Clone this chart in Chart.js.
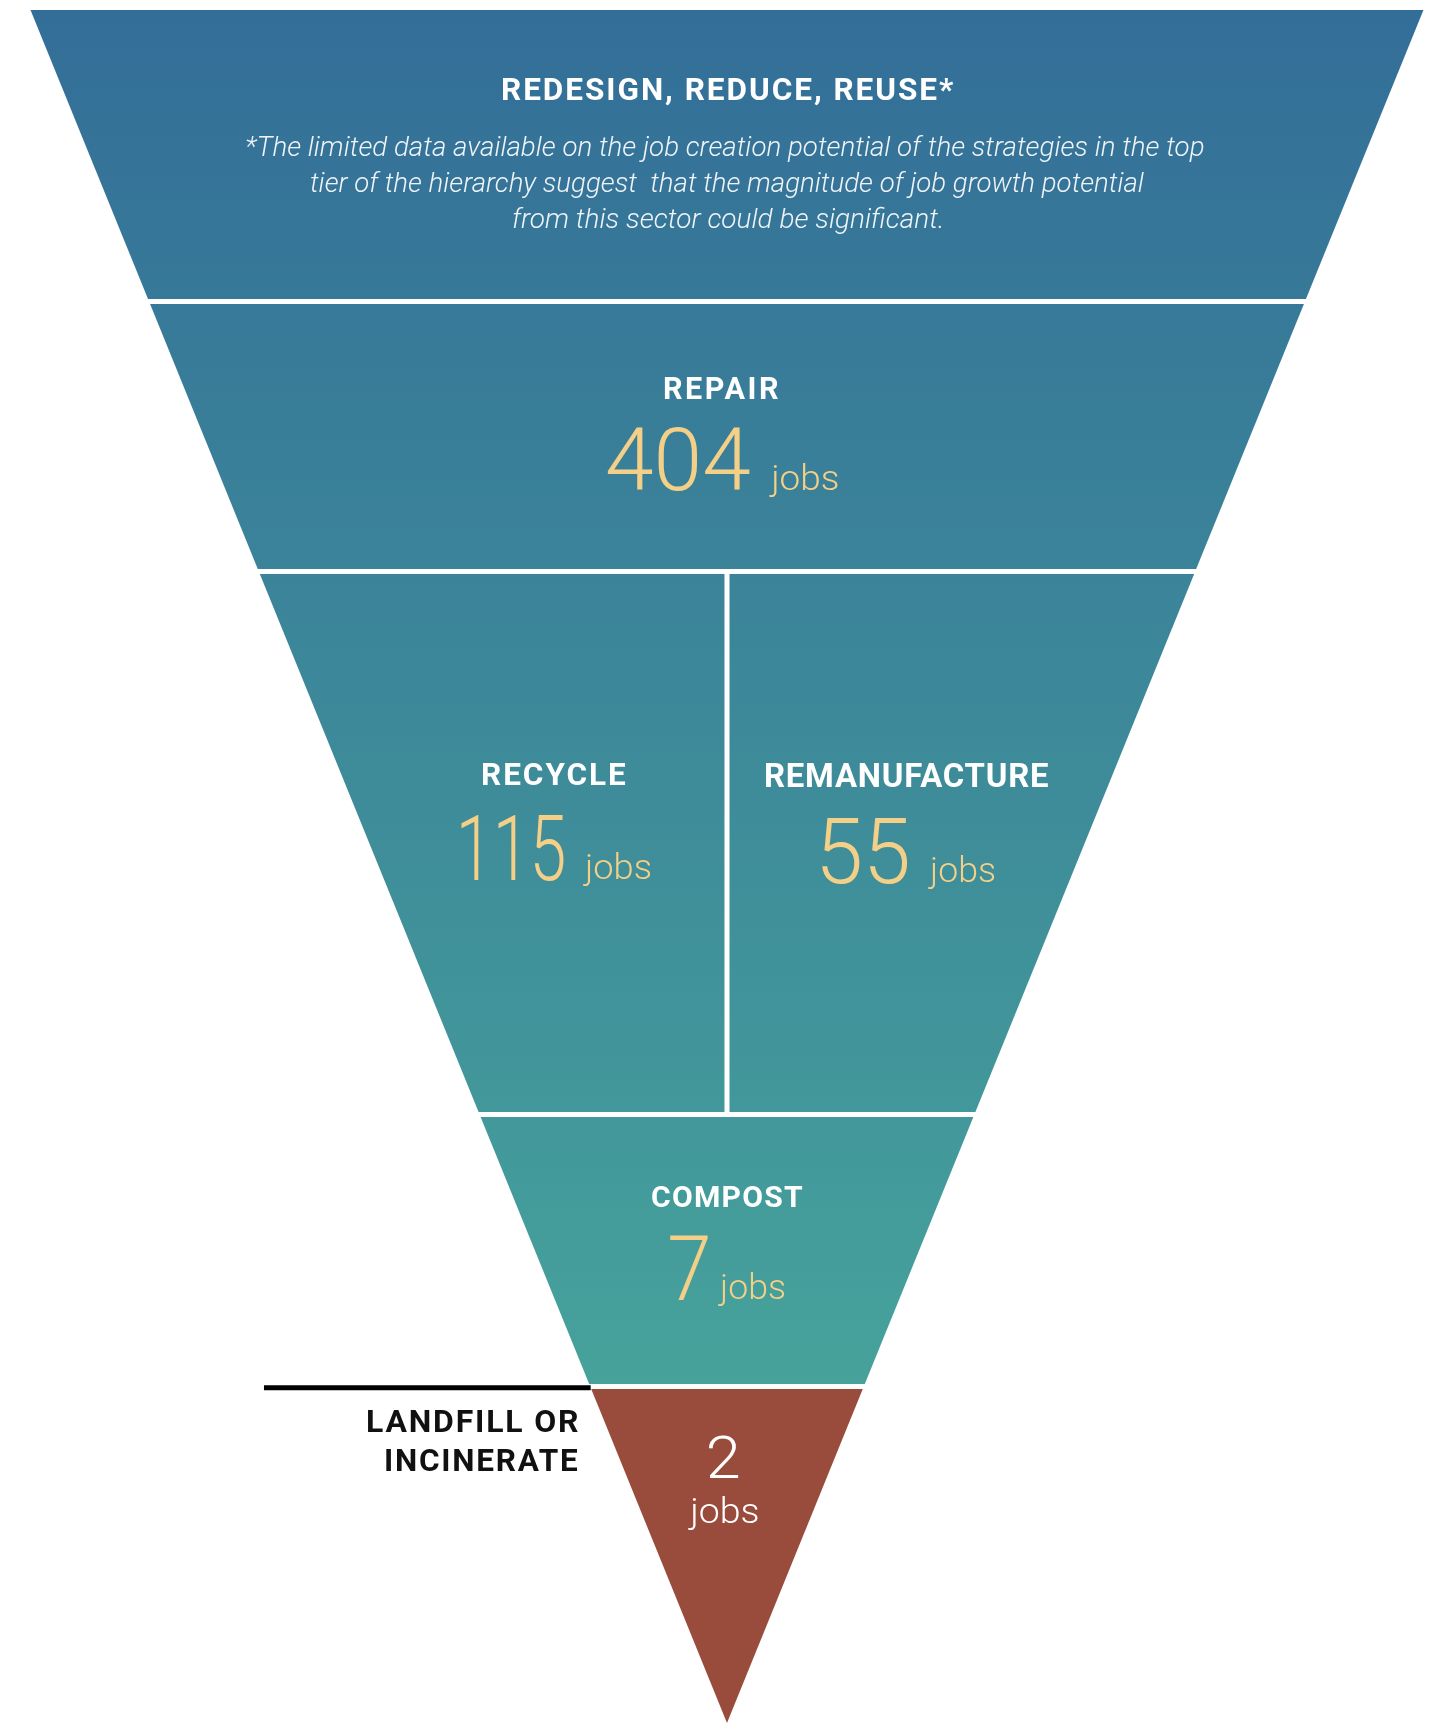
<!DOCTYPE html>
<html>
<head>
<meta charset="utf-8">
<script src="https://cdn.jsdelivr.net/npm/chart.js@4/dist/chart.umd.min.js"></script>
<style>
  html, body { margin: 0; padding: 0; background: #fff; }
  canvas { display: block; }
</style>
</head>
<body>
<canvas id="funnel" width="1439" height="1724"></canvas>
<script>
// data
const tierLabels = [
  ['REDESIGN, REDUCE, REUSE*'],
  ['REPAIR'],
  ['RECYCLE'],
  ['REMANUFACTURE'],
  ['COMPOST'],
  ['LANDFILL OR', 'INCINERATE'],
];
const tierJobs = [null, 404, 115, 55, 7, 2];
const jobsUnit = 'jobs';
const noteLines = [
  '*The limited data available on the job creation potential of the strategies in the top',
  'tier of the hierarchy suggest  that the magnitude of job growth potential',
  'from this sector could be significant.',
];

// layout: depth of the band edges (0 = top edge, 1 = apex), band of each tier
const bandEdges = [0, 0.1702, 0.3278, 0.6448, 0.8036, 1];
const tierBand = [0, 1, 2, 2, 3, 4];
const tierSide = [0, 0, -1, 1, 0, 0];
const gapY = 0.00146;
const gapX = 0.0036;

const halfWidth = d => 1 - d;

function tierShape(i) {
  const b = tierBand[i];
  const top = b === 0 ? bandEdges[b] : bandEdges[b] + gapY;
  const bot = b === bandEdges.length - 2 ? bandEdges[b + 1] : bandEdges[b + 1] - gapY;
  const side = tierSide[i];
  if (side < 0) {
    return [{x: -halfWidth(top), y: top}, {x: -gapX, y: top}, {x: -gapX, y: bot}, {x: -halfWidth(bot), y: bot}];
  }
  if (side > 0) {
    return [{x: gapX, y: top}, {x: halfWidth(top), y: top}, {x: halfWidth(bot), y: bot}, {x: gapX, y: bot}];
  }
  if (halfWidth(bot) === 0) {
    return [{x: -halfWidth(top), y: top}, {x: halfWidth(top), y: top}, {x: 0, y: bot}];
  }
  return [{x: -halfWidth(top), y: top}, {x: halfWidth(top), y: top}, {x: halfWidth(bot), y: bot}, {x: -halfWidth(bot), y: bot}];
}

function blueGradient(context) {
  const chart = context.chart;
  const area = chart.chartArea;
  if (!area) return '#3a8a9c';
  const y = chart.scales.y;
  const g = chart.ctx.createLinearGradient(0, y.getPixelForValue(0), 0, y.getPixelForValue(bandEdges[4]));
  g.addColorStop(0, '#336e98');
  g.addColorStop(1, '#46a29b');
  return g;
}

const datasets = tierLabels.map((lbl, i) => ({
  label: lbl.join(' '),
  data: tierShape(i),
  fill: 'shape',
  backgroundColor: i === tierLabels.length - 1 ? '#994b3c' : blueGradient,
  borderWidth: 0,
  pointRadius: 0,
  tension: 0,
}));

// black rule next to the landfill tier
const ruleDepth = bandEdges[4] + 0.0007;
datasets.push({
  label: 'rule',
  data: [{x: -0.6648, y: ruleDepth}, {x: -halfWidth(ruleDepth), y: ruleDepth}],
  fill: false,
  borderColor: '#000',
  borderWidth: 5,
  borderCapStyle: 'butt',
  pointRadius: 0,
});

// text boxes in pixels: left, right, top of ink, baseline
const textBoxes = {
  title: [503, 954, 77, 100],
  notes: [[246, 1204, 156], [311, 1144, 192], [513, 941, 228]],
  labels: [
    null,
    [[664, 778, 377, 399]],
    [[483, 626, 762, 785]],
    [[766, 1048, 763, 787]],
    [[652, 803, 1185, 1207]],
    [[368, 578, 1409, 1432], [386, 578, 1448, 1471]],
  ],
  numbers: [null, [607, 750, 427, 490], [461, 564, 815, 880], [822, 908, 818, 883], [670, 708, 1235, 1300], [709, 739, 1435, 1478]],
  units: [null, [769, 838, 464, 490], [583, 651, 852, 879], [928, 995, 855, 882], [718, 785, 1272, 1299], [688, 758, 1497, 1523]],
};

function fitText(ctx, text, box, fontFn, color, track, fixedSize) {
  const [left, right, top, base] = box;
  ctx.save();
  ctx.letterSpacing = '0px';
  ctx.textAlign = 'left';
  ctx.textBaseline = 'alphabetic';
  let size = fixedSize;
  if (!size) {
    ctx.font = fontFn(100);
    const m0 = ctx.measureText(text);
    size = 100 * (base - top) / m0.actualBoundingBoxAscent;
  }
  ctx.font = fontFn(size);
  const target = right - left;
  if (track && text.length > 1) {
    const m1 = ctx.measureText(text);
    const w1 = m1.actualBoundingBoxLeft + m1.actualBoundingBoxRight;
    const s = Math.max(0, (target - w1) / (text.length - 1));
    ctx.letterSpacing = s.toFixed(2) + 'px';
  }
  const m = ctx.measureText(text);
  const ink = m.actualBoundingBoxLeft + m.actualBoundingBoxRight;
  const sx = target / ink;
  ctx.translate(left + m.actualBoundingBoxLeft * sx, base);
  ctx.scale(sx, 1);
  ctx.fillStyle = color;
  ctx.fillText(text, 0, 0);
  ctx.restore();
}

const boldFont = s => `700 ${s}px Roboto`;
const lightFont = s => `300 ${s}px Roboto`;
const noteFont = s => `italic 300 ${s}px Roboto`;

const funnelText = {
  id: 'funnelText',
  afterDatasetsDraw(chart) {
    const ctx = chart.ctx;
    fitText(ctx, tierLabels[0][0], textBoxes.title, boldFont, '#ffffff', true);
    noteLines.forEach((line, k) => {
      const [l, r, b] = textBoxes.notes[k];
      fitText(ctx, line, [l, r, 0, b], noteFont, 'rgba(255,255,255,0.92)', false, 27);
    });
    for (let i = 1; i < tierLabels.length; i++) {
      const last = i === tierLabels.length - 1;
      tierLabels[i].forEach((line, k) => {
        fitText(ctx, line, textBoxes.labels[i][k], boldFont, last ? '#111111' : '#ffffff', true);
      });
      const numColor = last ? '#ffffff' : '#f3cf87';
      fitText(ctx, String(tierJobs[i]), textBoxes.numbers[i], lightFont, numColor, false);
      fitText(ctx, jobsUnit, textBoxes.units[i], lightFont, numColor, false);
    }
  }
};

new Chart(document.getElementById('funnel'), {
  type: 'line',
  data: { datasets },
  options: {
    responsive: false,
    animation: false,
    devicePixelRatio: 1,
    layout: { padding: 0 },
    plugins: {
      legend: { display: false },
      tooltip: { enabled: false },
    },
    scales: {
      x: { type: 'linear', display: false, min: -1.0438, max: 1.0223 },
      y: { type: 'linear', display: false, reverse: true, min: -0.00584, max: 1.00058 },
    },
  },
  plugins: [funnelText],
});
</script>
</body>
</html>
